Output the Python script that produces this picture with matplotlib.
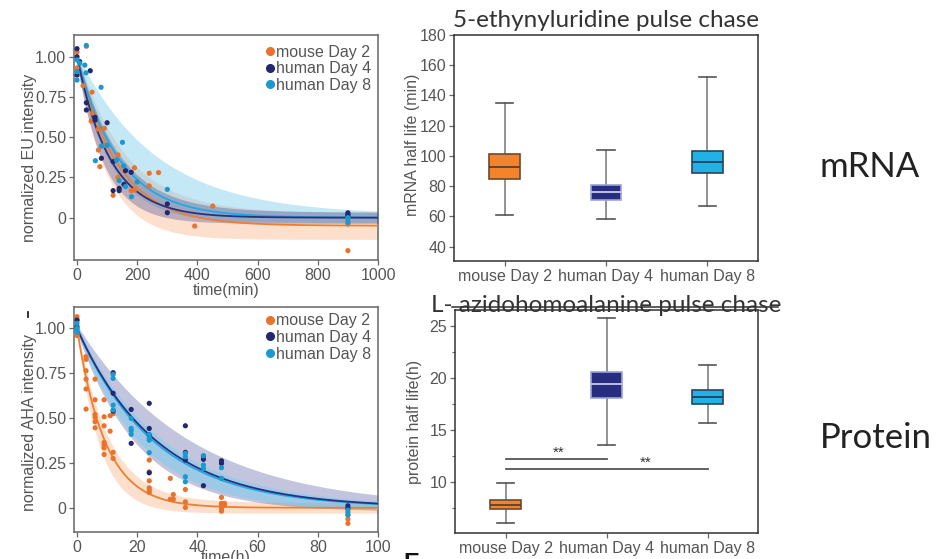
import numpy as np
import matplotlib
matplotlib.use('Agg')
import matplotlib.pyplot as plt
from matplotlib.lines import Line2D

plt.rcParams['font.family'] = ['Liberation Sans', 'DejaVu Sans']

groups = ['mouse Day 2', 'human Day 4', 'human Day 8']

# ---------------- EU (mRNA) pulse chase scatter ----------------
eu_mouse_t = [0, 0, 31, 20, 50, 51, 47, 71, 91, 71, 76, 93, 136, 191, 240, 271, 136, 240,
              191, 180, 120, 391, 451, 900, 900, 900]
eu_mouse_v = [1.03, 0.93, 1.065, 0.82, 0.78, 0.65, 0.60, 0.55, 0.555, 0.42, 0.317, 0.45, 0.39,
              0.31, 0.276, 0.28, 0.25, 0.197, 0.172, 0.168, 0.139, -0.052, 0.072, -0.205, -0.02, -0.04]
eu_h4_t = [0, 0, 0, 9, 44, 31, 31, 60, 60, 100, 81, 120, 140, 140, 156, 161, 180, 120,
           300, 300, 900, 900, 900]
eu_h4_v = [1.05, 1.0, 0.886, 0.97, 0.913, 0.714, 0.669, 0.623, 0.606, 0.59, 0.369, 0.168,
           0.182, 0.168, 0.207, 0.292, 0.282, 0.348, 0.085, 0.031, 0.03, 0.02, 0.01]
eu_h8_t = [0, 0, 0, 31, 26, 30, 9, 80, 61, 81, 100, 131, 151, 140, 155, 161, 181, 200,
           300, 900, 900, 900]
eu_h8_v = [0.98, 0.907, 0.855, 1.07, 0.948, 0.90, 0.96, 0.81, 0.354, 0.445, 0.449, 0.358,
           0.468, 0.23, 0.321, 0.193, 0.13, 0.222, 0.176, -0.005, -0.03, 0.0]

# fitted decay parameters (amplitude, plateau, half-life in min) and band limits
eu_fit_A = [1.0, 1.0, 1.0]
eu_fit_plateau = [-0.05, 0.0, 0.0]
eu_fit_half = [93, 76, 96]
eu_band_A = [(0.95, 1.03), (0.96, 1.03), (0.93, 1.02)]
eu_band_plateau = [(-0.135, 0.03), (-0.035, 0.035), (-0.03, 0.02)]
eu_band_half = [(70, 110), (62, 95), (80, 180)]

# ---------------- AHA (protein) pulse chase scatter ----------------
aha_mouse_t = [0, 0, 0, 0, 3, 3, 3, 3, 3, 3, 6, 6, 6, 6, 6, 6, 9, 9, 9, 9, 9, 9, 9, 11, 11,
               12, 12, 12, 24, 24, 24, 24, 24, 24, 31, 31, 32, 32, 36, 36, 36,
               48, 48, 48, 48, 48, 49, 49, 90, 90, 90]
aha_mouse_v = [1.065, 1.046, 0.97, 0.96, 0.842, 0.827, 0.764, 0.717, 0.662, 0.55, 0.717, 0.602,
               0.52, 0.505, 0.48, 0.446, 0.602, 0.507, 0.457, 0.364, 0.35, 0.334, 0.297, 0.513,
               0.427, 0.524, 0.309, 0.275, 0.266, 0.2, 0.15, 0.111, 0.098, 0.085, 0.164, 0.048,
               0.074, 0.048, 0.102, 0.033, 0.002, 0.058, 0.024, 0.015, -0.004, -0.019, 0.024,
               0.015, -0.04, -0.063, -0.087]
aha_h4_t = [0, 0, 12, 12, 12, 18, 18, 24, 24, 24, 24, 36, 36, 36, 42, 42, 42, 48, 48, 90, 90]
aha_h4_v = [1.046, 1.009, 0.753, 0.638, 0.539, 0.548, 0.359, 0.582, 0.442, 0.405, 0.195,
            0.457, 0.309, 0.266, 0.288, 0.27, 0.123, 0.262, 0.247, 0.011, -0.004]
aha_h8_t = [0, 0, 0, 0, 12, 12, 12, 12, 18, 18, 18, 18, 24, 24, 24, 24, 36, 36, 36, 36,
            42, 42, 42, 48, 48, 90, 90, 90]
aha_h8_v = [1.028, 1.0, 0.99, 0.978, 0.743, 0.721, 0.572, 0.545, 0.498, 0.442, 0.428, 0.409,
            0.409, 0.39, 0.377, 0.307, 0.303, 0.284, 0.173, 0.145, 0.29, 0.238, 0.219,
            0.223, 0.164, -0.013, -0.026, -0.04]

aha_fit_A = [1.0, 1.0, 1.0]
aha_fit_plateau = [0.0, 0.0, 0.0]
aha_fit_half = [6.5, 18.5, 17.8]
aha_band_A = [(0.98, 1.02), (0.98, 1.02), (0.98, 1.02)]
aha_band_plateau = [(-0.03, 0.03), (-0.02, 0.0), (-0.02, 0.01)]
aha_band_half = [(5.2, 7.2), (14.0, 26.0), (15.0, 19.5)]

# ---------------- half-life box plots ----------------
mrna_whislo = [61, 58, 67]
mrna_q1 = [85, 71, 88.5]
mrna_med = [93, 76, 96]
mrna_q3 = [101.5, 81, 103]
mrna_whishi = [135, 104, 152.5]

prot_whislo = [6.1, 13.6, 15.7]
prot_q1 = [7.4, 18.1, 17.5]
prot_med = [7.8, 19.4, 18.2]
prot_q3 = [8.3, 20.6, 18.8]
prot_whishi = [9.9, 25.7, 21.2]

# ---------------- style ----------------
pt_colors = ['#E9722C', '#22286E', '#1B98CE']
line_colors = ['#F27D2C', '#2B3080', '#22A9E3']
band_colors = ['#F89A5C', '#3A4192', '#7FCDEE']
band_alphas_eu = [0.30, 0.32, 0.45]
band_alphas_aha = [0.30, 0.30, 0.55]
box_colors = ['#F5832A', '#272D7F', '#22B1E6']
box_edges = ['#6A4A32', '#9CA2DA', '#2C4656']
med_colors = ['#5A4030', '#C8CCEE', '#2A4050']
txt_grey = '#555555'
spine_grey = '#666666'
title_font = ['Lato', 'DejaVu Sans']

W, H = 946, 559
fig = plt.figure(figsize=(W / 100, H / 100), dpi=100)


def frac(l, t, r, b):
    return [l / W, 1 - b / H, (r - l) / W, (b - t) / H]


def style_axes(ax):
    for s in ax.spines.values():
        s.set_color(spine_grey)
        s.set_linewidth(1.1)
    ax.tick_params(direction='out', length=3.5, width=0.9, color=spine_grey,
                   labelcolor=txt_grey, labelsize=11.5, pad=2)


def decay(t, A, p, h):
    return p + (A - p) * np.exp(-np.log(2) * t / h)


def curve_panel(ax, ts, vs, fitA, fitP, fitH, bA, bP, bH, alphas, xmax, order, leg_y):
    tt = np.linspace(0, xmax, 600)
    for i in order:
        lo = decay(tt, bA[i][0], bP[i][0], bH[i][0])
        hi = decay(tt, bA[i][1], bP[i][1], bH[i][1])
        ax.fill_between(tt, lo, hi, color=band_colors[i], alpha=alphas[i], lw=0, zorder=1 + order.index(i))
    for i in [0, 2, 1]:
        ax.plot(tt, decay(tt, fitA[i], fitP[i], fitH[i]), color=line_colors[i], lw=1.3, zorder=5)
    for i in range(3):
        ax.scatter(ts[i], vs[i], s=14, color=pt_colors[i], edgecolors='none', zorder=6)
    handles = [Line2D([], [], ls='', marker='o', ms=5.5, color=pt_colors[i]) for i in range(3)]
    ax.legend(handles, groups, loc='upper right', bbox_to_anchor=(1.0, leg_y), frameon=False,
              fontsize=11.5, handlelength=0.5, handletextpad=0.15, labelspacing=0.1,
              borderaxespad=0.2, borderpad=0.2, labelcolor=txt_grey)


# ---- panel A ----
axA = fig.add_axes(frac(74, 35, 378, 260))
curve_panel(axA, [eu_mouse_t, eu_h4_t, eu_h8_t], [eu_mouse_v, eu_h4_v, eu_h8_v],
            eu_fit_A, eu_fit_plateau, eu_fit_half, eu_band_A, eu_band_plateau, eu_band_half,
            band_alphas_eu, 1000, [0, 2, 1], 0.985)
axA.set_xlim(-10, 1000)
axA.set_ylim(-0.263, 1.135)
axA.set_xticks([0, 200, 400, 600, 800, 1000])
axA.set_yticks([0, 0.25, 0.5, 0.75, 1.0])
axA.set_yticklabels(['0', '0.25', '0.50', '0.75', '1.00'])
axA.set_xlabel('time(min)', fontsize=11.5, color=txt_grey, labelpad=0)
axA.set_ylabel('normalized EU intensity', fontsize=11.5, color=txt_grey)
axA.yaxis.set_label_coords(-0.122, 0.456)
style_axes(axA)

# ---- panel C ----
axC = fig.add_axes(frac(74, 307, 378, 532))
curve_panel(axC, [aha_mouse_t, aha_h4_t, aha_h8_t], [aha_mouse_v, aha_h4_v, aha_h8_v],
            aha_fit_A, aha_fit_plateau, aha_fit_half, aha_band_A, aha_band_plateau, aha_band_half,
            band_alphas_aha, 100, [0, 1, 2], 1.0)
axC.set_xlim(-1, 100)
axC.set_ylim(-0.135, 1.119)
axC.set_xticks([0, 20, 40, 60, 80, 100])
axC.set_yticks([0, 0.25, 0.5, 0.75, 1.0])
axC.set_yticklabels(['0', '0.25', '0.50', '0.75', '1.00'])
axC.set_xlabel('time(h)', fontsize=11.5, color=txt_grey, labelpad=-3)
axC.set_ylabel('normalized AHA intensity', fontsize=11.5, color=txt_grey)
axC.yaxis.set_label_coords(-0.122, 0.487)
style_axes(axC)


def box_panel(ax, wl, q1, md, q3, wh):
    stats = [dict(whislo=wl[i], q1=q1[i], med=md[i], q3=q3[i], whishi=wh[i], fliers=[])
             for i in range(3)]
    b = ax.bxp(stats, positions=[1, 2, 3], widths=0.3, capwidths=0.17, patch_artist=True,
               showfliers=False)
    for i in range(3):
        b['boxes'][i].set(facecolor=box_colors[i], edgecolor=box_edges[i], linewidth=1.2, zorder=3)
        b['medians'][i].set(color=med_colors[i], linewidth=1.3, zorder=4)
        for w in b['whiskers'][2 * i:2 * i + 2]:
            w.set(color='#8A8A8A', linewidth=1.3)
        for c in b['caps'][2 * i:2 * i + 2]:
            c.set(color='#555555', linewidth=1.2)
    ax.set_xlim(0.5, 3.5)
    ax.set_xticks([1, 2, 3])
    ax.set_xticklabels(groups)


# ---- panel B ----
axB = fig.add_axes(frac(454, 35, 758, 261))
box_panel(axB, mrna_whislo, mrna_q1, mrna_med, mrna_q3, mrna_whishi)
axB.set_ylim(30.5, 180)
axB.set_yticks([40, 60, 80, 100, 120, 140, 160, 180])
axB.set_ylabel('mRNA half life (min)', fontsize=11.5, color=txt_grey)
axB.yaxis.set_label_coords(-0.112, 0.515)
style_axes(axB)
for s in axB.spines.values():
    s.set_color('#333333')
axB.set_title('5-ethynyluridine pulse chase', family=title_font, fontweight='normal',
              fontsize=17.5, color='#333333', pad=6)

# ---- panel D ----
axD = fig.add_axes(frac(455, 310, 758, 533))
box_panel(axD, prot_whislo, prot_q1, prot_med, prot_q3, prot_whishi)
axD.set_ylim(5.15, 26.5)
axD.set_yticks([10, 15, 20, 25])
axD.set_yticks([7.5, 12.5, 17.5, 22.5], minor=True)
axD.set_ylabel('protein half life(h)', fontsize=11.5, color=txt_grey)
axD.yaxis.set_label_coords(-0.109, 0.496)
style_axes(axD)
axD.tick_params(which='minor', direction='out', length=2.5, width=0.8, color=spine_grey)
for s in axD.spines.values():
    s.set_color('#333333')
axD.set_title('L- azidohomoalanine pulse chase', family=title_font, fontweight='normal',
              fontsize=17.5, color='#333333', y=0.99, pad=0)
# significance bars
axD.plot([1, 2], [12.2, 12.2], color='#555555', lw=1.3, clip_on=False)
axD.plot([1, 3], [11.3, 11.3], color='#555555', lw=1.3, clip_on=False)
axD.text(1.53, 12.15, '**', ha='center', va='bottom', fontsize=11, color='#333333')
axD.text(2.39, 11.25, '**', ha='center', va='bottom', fontsize=11, color='#333333')

# stray line over the protein title and small marks
fig.add_artist(Line2D([452 / W, 778 / W], [1 - 307 / H, 1 - 307 / H], color='#333333', lw=1.1))
fig.add_artist(Line2D([28 / W, 28 / W], [1 - 312 / H, 1 - 317 / H], color='#222222', lw=1.3))
fig.text(403 / W, 1 - 570 / H, 'E', fontsize=17, fontweight='bold', color='#111111',
         ha='left', va='baseline')

# row labels
fig.text(870 / W, 1 - 167 / H, 'mRNA', family=title_font, fontweight='normal', fontsize=25,
         color='#222222', ha='center', va='center')
fig.text(876 / W, 1 - 438 / H, 'Protein', family=title_font, fontweight='normal', fontsize=25,
         color='#222222', ha='center', va='center')

fig.savefig('out.png', dpi=100, facecolor='white')
